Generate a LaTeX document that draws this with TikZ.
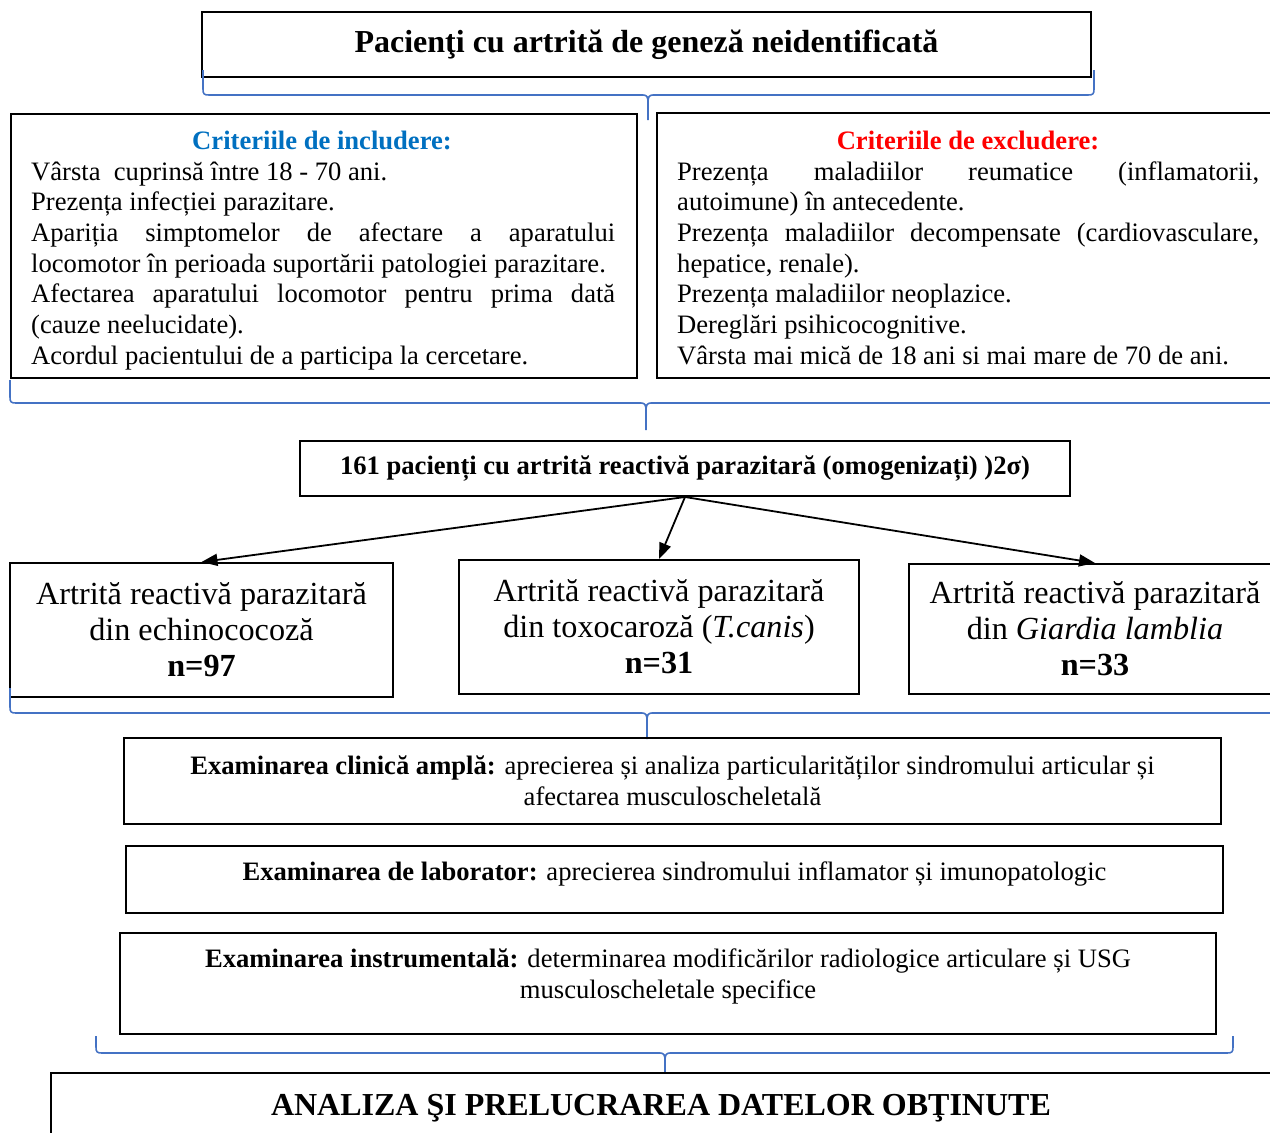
\documentclass[tikz,border=0pt]{standalone}
\usepackage{fontspec}
\setmainfont{Liberation Serif}
\usetikzlibrary{arrows.meta}
\definecolor{bracec}{HTML}{4472C4}
\definecolor{incblue}{HTML}{0070C0}
\definecolor{excred}{HTML}{FF0000}
\newcommand{\fbody}{\fontsize{26.6}{30.7}\selectfont}
\newcommand{\fhead}{\fontsize{32}{38}\selectfont}
\newcommand{\fbig}{\fontsize{32.2}{36}\selectfont}
\newcommand{\drawbrace}[6]{%
  \draw[brace] (#1,#4) -- (#1,#5-6) .. controls (#1,#5-1) and (#1+1,#5) .. (#1+6,#5)
     -- (#3-5,#5) .. controls (#3-1,#5) and (#3,#5+2) .. (#3,#5+8) -- (#3,#6);
  \draw[brace] (#2,#4) -- (#2,#5-6) .. controls (#2,#5-1) and (#2-1,#5) .. (#2-6,#5)
     -- (#3+5,#5) .. controls (#3+1,#5) and (#3,#5+2) .. (#3,#5+8);
}
\tikzset{
  box/.style={draw=black, line width=2pt, inner sep=0pt, anchor=north west, align=center},
  brace/.style={draw=bracec, line width=1.6pt},
  arr/.style={draw=black, line width=1.8pt, -{Triangle[length=16pt,width=12pt]}},
  txt/.style={inner sep=0pt},
}
\begin{document}
\begin{tikzpicture}[x=1pt,y=-1pt]
\useasboundingbox (0,0) rectangle (1270,1133);
\clip (0,0) rectangle (1270,1133);

% top box
\node[box, minimum width=889pt, minimum height=65pt, font=\fhead\bfseries] (top) at (201,11)
  {Pacienţi cu artrită de geneză neidentificată};
\drawbrace{203}{1094}{648}{70}{95}{120}

% criteria boxes
\node[box, minimum width=626pt, minimum height=264pt] (inc) at (10,113) {};
\node[box, minimum width=624pt, minimum height=265pt] (exc) at (656,112) {};
\node[txt, anchor=base, font=\fbody\bfseries, text=incblue] (inchead) at (322,149) {Criteriile de includere:};
\node[txt, anchor=base, font=\fbody\bfseries, text=excred] (exchead) at (968,149) {Criteriile de excludere:};
\node[txt, anchor=base west] (inctext) at (31,180) {\parbox[t]{584pt}{\fbody\raggedright
Vârsta\ \ cuprinsă între 18 - 70 ani.\\
Prezența infecției parazitare.\\
\makebox[584pt][s]{Apariția simptomelor de afectare a aparatului}\\
locomotor în perioada suportării patologiei parazitare.\\
\makebox[584pt][s]{Afectarea aparatului locomotor pentru prima dată}\\
(cauze neelucidate).\\
Acordul pacientului de a participa la cercetare.}};
\node[txt, anchor=base west] (exctext) at (677,180) {\parbox[t]{582pt}{\fbody\raggedright
\makebox[582pt][s]{Prezența maladiilor reumatice (inflamatorii,}\\
autoimune) în antecedente.\\
\makebox[582pt][s]{Prezența maladiilor decompensate (cardiovasculare,}\\
hepatice, renale).\\
Prezența maladiilor neoplazice.\\
Dereglări psihicocognitive.\\
Vârsta mai mică de 18 ani si mai mare de 70 de ani.}};
\drawbrace{10}{1284}{646}{380}{403}{430}

% 161 box
\node[box, minimum width=770pt, minimum height=55pt, font=\fbody\bfseries] (n161) at (299,440)
  {161 pacienți cu artrită reactivă parazitară (omogenizați) )2σ)};

% three groups
\node[box, minimum width=383pt, minimum height=134pt, font=\fbig] (bA) at (9,562)
  {Artrită reactivă parazitară\\din echinococoză\\\textbf{n=97}};
\node[box, minimum width=400pt, minimum height=134pt, font=\fbig] (bB) at (458,559)
  {Artrită reactivă parazitară\\din toxocaroză (\textit{T.canis})\\\textbf{n=31}};
\node[box, minimum width=372pt, minimum height=130pt, font=\fbig] (bC) at (908,563)
  {Artrită reactivă parazitară\\din \textit{Giardia lamblia}\\\textbf{n=33}};
\draw[arr] (n161.south) -- (bA.north);
\draw[arr] (n161.south) -- (bB.north);
\draw[arr] (n161.south) -- (bC.north);
\drawbrace{10}{1284}{647}{688}{713}{739}

% examinations
\node[box, minimum width=1097pt, minimum height=86pt, font=\fbody] (clin) at (123,737)
  {\textbf{Examinarea clinică amplă:} aprecierea și analiza particularităților sindromului articular și\\afectarea musculoscheletală};
\node[box, minimum width=1097pt, minimum height=67pt] (lab) at (125,845) {};
\node[txt, font=\fbody, yshift=5.5pt] (labtext) at (lab.center)
  {\textbf{Examinarea de laborator:} aprecierea sindromului inflamator și imunopatologic};
\node[box, minimum width=1096pt, minimum height=101pt] (instr) at (119,932) {};
\node[txt, font=\fbody, align=center, yshift=7pt] (instrtext) at (instr.center)
  {\textbf{Examinarea instrumentală:} determinarea modificărilor radiologice articulare și USG\\musculoscheletale specifice};
\drawbrace{96}{1233}{665}{1036}{1053}{1072}

% final
\node[box, minimum width=1240pt, minimum height=70pt] (final) at (50,1072) {};
\node[txt, font=\fhead\bfseries, xshift=-10pt] (finaltext) at (final.center)
  {ANALIZA ŞI PRELUCRAREA DATELOR OBŢINUTE};
\end{tikzpicture}
\end{document}
